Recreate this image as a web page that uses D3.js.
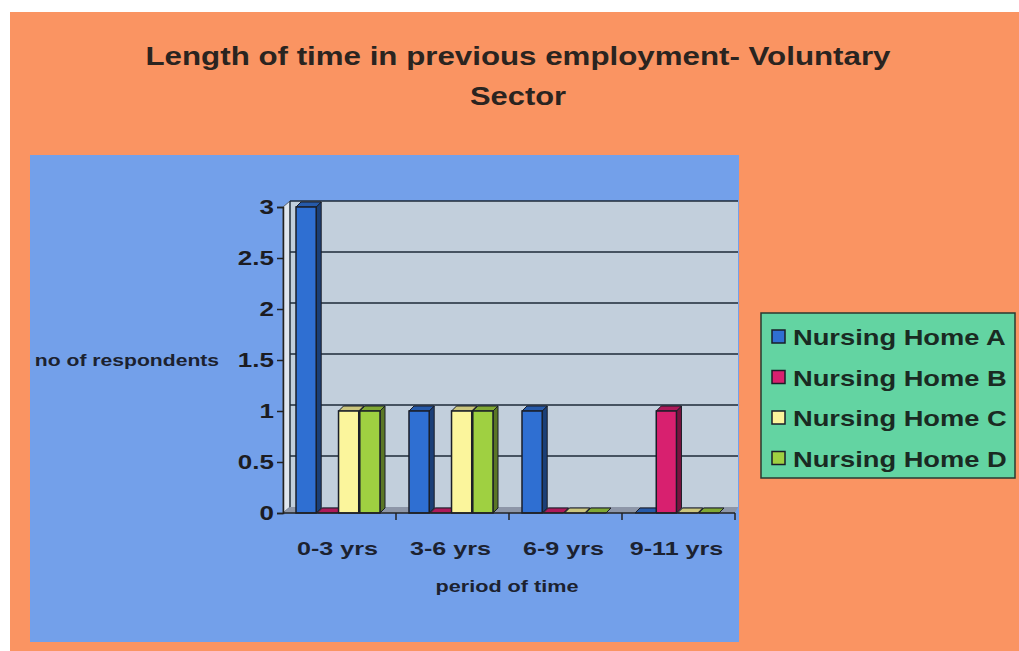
<!DOCTYPE html>
<html>
<head>
<meta charset="utf-8">
<script src="https://cdn.jsdelivr.net/npm/d3@7"></script>
<style>
  body { margin: 0; background: #fff; }
  svg { display: block; font-family: "Liberation Sans", Arial, sans-serif; }
</style>
</head>
<body>
<svg id="viz"></svg>
<script>
// Data
const categories = ["0-3 yrs", "3-6 yrs", "6-9 yrs", "9-11 yrs"];
const series = ["Nursing Home A", "Nursing Home B", "Nursing Home C", "Nursing Home D"];
const homeA = [3, 1, 1, 0];
const homeB = [0, 0, 0, 1];
const homeC = [1, 1, 0, 0];
const homeD = [1, 1, 0, 0];
const yTicks = [0, 0.5, 1, 1.5, 2, 2.5, 3];
const colors = ["#2f6fd2", "#d8206f", "#fbf59c", "#9fd041"];

const width = 1019, height = 651;
const svg = d3.select("#viz").attr("width", width).attr("height", height);
const values = [homeA, homeB, homeC, homeD];

// the original picture is stretched sideways, so widen the text to match
function stretch(sel, k) {
  sel.each(function () {
    const w = this.getComputedTextLength();
    d3.select(this).attr("textLength", w * k).attr("lengthAdjust", "spacingAndGlyphs");
  });
}

// background layers
svg.append("rect").attr("x", 10).attr("y", 12).attr("width", width - 10).attr("height", height - 12).attr("fill", "#fa9462");
svg.append("rect").attr("x", 30).attr("y", 155).attr("width", 709).attr("height", 487).attr("fill", "#73a0ea");

// title
const title = svg.append("text").attr("text-anchor", "middle").attr("font-weight", "bold")
  .attr("font-size", 26).attr("fill", "#2a2420");
title.append("tspan").attr("x", 518).attr("y", 65).text("Length of time in previous employment- Voluntary")
  .attr("textLength", 745).attr("lengthAdjust", "spacingAndGlyphs");
title.append("tspan").attr("x", 518).attr("y", 105).text("Sector")
  .attr("textLength", 96).attr("lengthAdjust", "spacingAndGlyphs");

// scales
const x = d3.scaleBand().domain(categories).range([283, 735]);
const xInner = d3.scaleBand().domain(series).range([13, 97]).paddingInner(0.05);
const y = d3.scaleLinear().domain([0, 3]).range([513, 207]);
const dx = 7, dy = -6; // 3D depth

// back wall & side wall
svg.append("rect").attr("x", 283 + dx).attr("y", y(3) + dy).attr("width", 738 - 283 - dx)
  .attr("height", y(0) - y(3)).attr("fill", "#c2cfdc");
svg.append("path")
  .attr("d", `M283,${y(3)} L${283 + dx},${y(3) + dy} L${283 + dx},${y(0) + dy} L283,${y(0)} Z`)
  .attr("fill", "#dfe6ee").attr("stroke", "#5a6470").attr("stroke-width", 1);
// floor
svg.append("path")
  .attr("d", `M283,${y(0)} L${283 + dx},${y(0) + dy} L738,${y(0) + dy} L735,${y(0)} Z`)
  .attr("fill", "#8d96a8");

// gridlines on back wall
svg.append("g").selectAll("line").data(yTicks.filter(d => d > 0)).join("line")
  .attr("x1", 283 + dx).attr("x2", 738)
  .attr("y1", d => y(d) + dy).attr("y2", d => y(d) + dy)
  .attr("stroke", "#1d2a38").attr("stroke-width", 1.6);
svg.append("line").attr("x1", 283 + dx).attr("x2", 283 + dx).attr("y1", y(3) + dy).attr("y2", y(0) + dy)
  .attr("stroke", "#1d2a38").attr("stroke-width", 1.2);

// bars (3D)
const shade = (c, k) => d3.color(c).darker(k).formatHex();
const bars = [];
categories.forEach((cat, i) => {
  series.forEach((s, j) => bars.push({ cat, s, v: values[j][i], color: colors[j] }));
});
const g = svg.append("g");
bars.forEach(b => {
  const x0 = x(b.cat) + xInner(b.s), w = xInner.bandwidth();
  const yt = y(b.v), yb = y(0);
  // side face
  g.append("path")
    .attr("d", `M${x0 + w},${yt} L${x0 + w + dx - 2},${yt + dy + 1} L${x0 + w + dx - 2},${yb + dy + 1} L${x0 + w},${yb} Z`)
    .attr("fill", shade(b.color, 1.6)).attr("stroke", "#1a1e28").attr("stroke-width", 1);
  // top face
  g.append("path")
    .attr("d", `M${x0},${yt} L${x0 + dx - 2},${yt + dy + 1} L${x0 + w + dx - 2},${yt + dy + 1} L${x0 + w},${yt} Z`)
    .attr("fill", shade(b.color, 0.6)).attr("stroke", "#1a1e28").attr("stroke-width", 1);
  // front face
  g.append("rect").attr("x", x0).attr("y", yt).attr("width", w).attr("height", Math.max(0, yb - yt))
    .attr("fill", b.color).attr("stroke", "#1a1e28").attr("stroke-width", 1.5);
});

// y axis
const yAxis = svg.append("g").attr("transform", "translate(283,0)")
  .call(d3.axisLeft(y).tickValues(yTicks).tickFormat(d3.format("")).tickSize(6).tickPadding(3));
yAxis.select(".domain").attr("stroke", "#222").attr("stroke-width", 1.5);
yAxis.selectAll(".tick line").attr("stroke", "#222").attr("stroke-width", 1.5);
yAxis.selectAll(".tick text").attr("font-size", 20).attr("font-weight", "bold").attr("fill", "#1c1c22")
  .attr("font-family", "Liberation Sans, Arial, sans-serif").call(stretch, 1.3);

// x axis
const xAxis = svg.append("g").attr("transform", `translate(0,${y(0)})`);
xAxis.append("line").attr("x1", 283).attr("x2", 735).attr("stroke", "#222").attr("stroke-width", 1.5);
xAxis.selectAll(".xt").data(categories).join("line").attr("class", "xt")
  .attr("x1", d => x(d) + x.bandwidth()).attr("x2", d => x(d) + x.bandwidth())
  .attr("y1", 0).attr("y2", 7).attr("stroke", "#222").attr("stroke-width", 1.5);
xAxis.selectAll(".xl").data(categories).join("text").attr("class", "xl")
  .attr("x", d => x(d) + x.bandwidth() / 2 - 2).attr("y", 42)
  .attr("text-anchor", "middle").attr("font-size", 19).attr("font-weight", "bold").attr("fill", "#1c2230")
  .text(d => d).call(stretch, 1.32);

// axis titles
svg.append("text").attr("x", 507).attr("y", 592).attr("text-anchor", "middle")
  .attr("font-size", 16).attr("font-weight", "bold").attr("fill", "#1c2230").text("period of time")
  .call(stretch, 1.35);
svg.append("text").attr("x", 127).attr("y", 366).attr("text-anchor", "middle")
  .attr("font-size", 16.5).attr("font-weight", "bold").attr("fill", "#1c2230").text("no of respondents")
  .call(stretch, 1.28);

// legend
const lg = svg.append("g").attr("transform", "translate(761,313)");
lg.append("rect").attr("width", 254).attr("height", 165).attr("fill", "#63d4a2")
  .attr("stroke", "#2a3a30").attr("stroke-width", 1.5);
series.forEach((s, i) => {
  const row = lg.append("g").attr("transform", `translate(0,${24 + i * 40.5})`);
  row.append("rect").attr("x", 11).attr("y", -7).attr("width", 13).attr("height", 13)
    .attr("fill", colors[i]).attr("stroke", "#1a1e28").attr("stroke-width", 1.5);
  row.append("text").attr("x", 32).attr("y", 8).attr("font-size", 22).attr("font-weight", "bold")
    .attr("fill", "#1a2a22").text(s).call(stretch, 1.24);
});
</script>
</body>
</html>
